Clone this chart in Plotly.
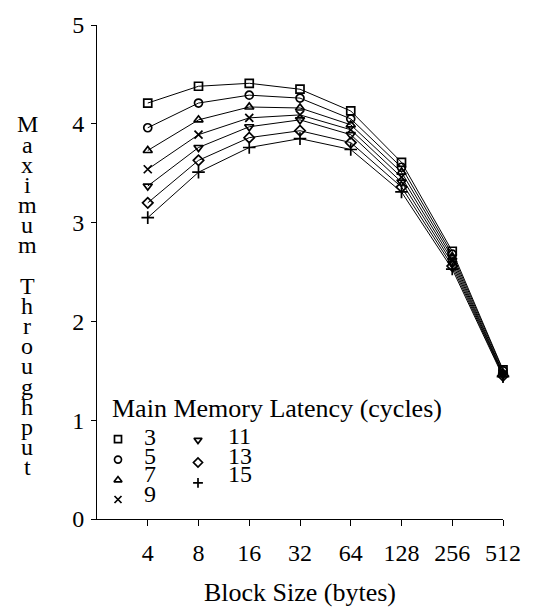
import plotly.graph_objects as go

# ---- data ----
block_sizes = ["4", "8", "16", "32", "64", "128", "256", "512"]
latencies = ["3", "5", "7", "9", "11", "13", "15"]
lat3 = [4.21, 4.38, 4.41, 4.35, 4.13, 3.61, 2.71, 1.51]
lat5 = [3.96, 4.21, 4.29, 4.26, 4.05, 3.56, 2.68, 1.50]
lat7 = [3.73, 4.04, 4.17, 4.16, 3.99, 3.51, 2.65, 1.48]
lat9 = [3.54, 3.89, 4.06, 4.09, 3.94, 3.46, 2.62, 1.47]
lat11 = [3.37, 3.76, 3.97, 4.04, 3.89, 3.41, 2.59, 1.46]
lat13 = [3.20, 3.63, 3.86, 3.93, 3.81, 3.36, 2.56, 1.45]
lat15 = [3.05, 3.51, 3.76, 3.85, 3.74, 3.31, 2.53, 1.44]
y_ticks = [0, 1, 2, 3, 4, 5]
y_title = "Maximum Throughput"
x_title = "Block Size (bytes)"
legend_title = "Main Memory Latency (cycles)"

series = [lat3, lat5, lat7, lat9, lat11, lat13, lat15]
symbols = ["square-open", "circle-open", "triangle-up-open", "x-thin",
           "triangle-down-open", "diamond-open", "cross-thin"]
sizes = [8, 8, 8, 8, 8, 8, 9]

FONT = "Liberation Serif"
FS = 24
FS_TITLE = 26

fig = go.Figure()
for name, vals, sym, sz in zip(latencies, series, symbols, sizes):
    fig.add_trace(go.Scatter(
        x=block_sizes, y=vals, mode="lines+markers", name=name,
        line=dict(color="black", width=1),
        marker=dict(symbol=sym, size=sz, color="black",
                    line=dict(color="black", width=1.7)),
        showlegend=False, cliponaxis=False,
    ))

# ---- hand-laid legend (layout only) on a pixel-coordinate overlay axis ----
L, R, T, B = 97, 503, 16, 523
W, H = 535, 614
leg_pos = [  # (symbol x, symbol y, text x, text y) in pixels
    (118, 441, 142, 439), (118, 462, 142, 458), (118, 483, 142, 477), (118, 503, 142, 497),
    (198, 442, 226, 438), (198, 465, 226, 458), (198, 486, 226, 477),
]
for (sx, sy, tx, ty), sym, name in zip(leg_pos, symbols, latencies):
    fig.add_trace(go.Scatter(
        x=[sx], y=[sy], xaxis="x2", yaxis="y2", mode="markers",
        marker=dict(symbol=sym, size=7, color="black",
                    line=dict(color="black", width=1.7)),
        showlegend=False, hoverinfo="skip", cliponaxis=False,
    ))

def px_to_paper(px, py):
    return (px - L) / (R - L), (B - py) / (B - T)

annotations = []
for (sx, sy, tx, ty), name in zip(leg_pos, latencies):
    xp, yp = px_to_paper(tx, ty)
    annotations.append(dict(
        x=xp, y=yp, xref="paper", yref="paper", text=name, showarrow=False,
        xanchor="left", yanchor="middle", font=dict(family=FONT, size=FS, color="black")))
xp, yp = px_to_paper(110, 410)
annotations.append(dict(
    x=xp, y=yp, xref="paper", yref="paper", text=legend_title, showarrow=False,
    xanchor="left", yanchor="middle", font=dict(family=FONT, size=FS_TITLE, color="black")))

# vertical stacked y-axis title (one upright letter per line)
for i, ch in enumerate(y_title):
    if ch == " ":
        continue
    xp, yp = px_to_paper(27, 118 + i * 20.7)
    annotations.append(dict(
        x=xp, y=yp, xref="paper", yref="paper", text=ch, showarrow=False,
        xanchor="center", yanchor="middle", font=dict(family=FONT, size=FS, color="black")))

fig.update_layout(
    width=W, height=H,
    margin=dict(l=L, r=W - R, t=T, b=H - B),
    paper_bgcolor="white", plot_bgcolor="white",
    font=dict(family=FONT, size=FS, color="black"),
    showlegend=False,
    xaxis=dict(
        type="category", categoryorder="array", categoryarray=block_sizes,
        range=[-1, 7], showgrid=False, zeroline=False,
        showline=True, linecolor="black", linewidth=1,
        ticks="outside", ticklen=6, tickcolor="black", tickwidth=1,
        ticklabelstandoff=6,
        title=dict(text=x_title, standoff=18, font=dict(family=FONT, size=FS_TITLE)),
    ),
    yaxis=dict(
        range=[0, 5], tickvals=y_ticks, showgrid=False, zeroline=False,
        showline=True, linecolor="black", linewidth=1,
        ticks="outside", ticklen=5, tickcolor="black", tickwidth=1,
        ticklabelstandoff=2,
    ),
    xaxis2=dict(domain=[0, 1], range=[L, R], overlaying="x", visible=False, fixedrange=True),
    yaxis2=dict(domain=[0, 1], range=[B, T], overlaying="y", visible=False, fixedrange=True),
    annotations=annotations,
)

fig.write_html("out.html")
